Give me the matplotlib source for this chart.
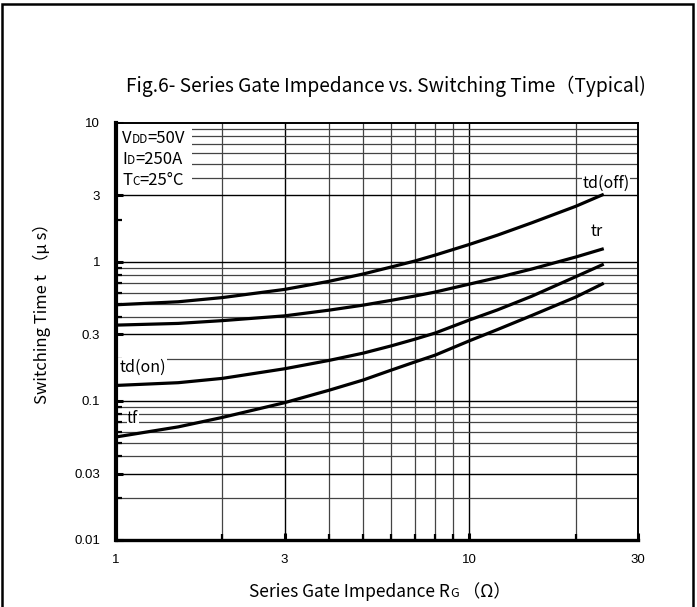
import matplotlib
matplotlib.use('Agg')
import matplotlib.pyplot as plt
from matplotlib.patches import Rectangle
from matplotlib.ticker import FixedLocator, FixedFormatter, NullFormatter

# gate resistance (ohm) and switching times (us), typical
rg = [1, 1.5, 2, 3, 4, 5, 6, 7, 8, 10, 12, 15, 20, 24]
td_off = [0.49, 0.515, 0.552, 0.632, 0.722, 0.815, 0.915, 1.01, 1.115, 1.33, 1.55, 1.9, 2.5, 3.05]
tr = [0.35, 0.36, 0.377, 0.408, 0.448, 0.487, 0.527, 0.566, 0.605, 0.69, 0.768, 0.885, 1.08, 1.24]
td_on = [0.129, 0.135, 0.145, 0.170, 0.195, 0.220, 0.248, 0.277, 0.307, 0.381, 0.45, 0.564, 0.78, 0.96]
tf = [0.055, 0.065, 0.076, 0.097, 0.119, 0.141, 0.166, 0.190, 0.213, 0.27, 0.325, 0.41, 0.557, 0.70]

x_ticks = [1, 3, 10, 30]
x_ticklabels = ['1', '3', '10', '30']
y_ticks = [0.01, 0.03, 0.1, 0.3, 1, 3, 10]
y_ticklabels = ['0.01', '0.03', '0.1', '0.3', '1', '3', '10']
x_minor = [2, 4, 5, 6, 7, 8, 9, 20]
y_minor = [0.02, 0.04, 0.05, 0.06, 0.07, 0.08, 0.09, 0.2, 0.4, 0.5, 0.6, 0.7, 0.8, 0.9, 2, 4, 5, 6, 7, 8, 9]
# horizontal grid has no line at 2
x_grid = [2, 3, 4, 5, 6, 7, 8, 9, 10, 20]
y_grid = [0.02, 0.03, 0.04, 0.05, 0.06, 0.07, 0.08, 0.09, 0.1, 0.2, 0.3, 0.4, 0.5, 0.6,
          0.7, 0.8, 0.9, 1, 3, 4, 5, 6, 7, 8, 9]

JP = ['Noto Sans CJK JP', 'DejaVu Sans']
plt.rcParams['font.family'] = JP

W, H = 697, 607
fig = plt.figure(figsize=(W / 100, H / 100), dpi=100)
ax = fig.add_axes([116 / W, 1 - 540 / H, 522 / W, 417.5 / H])
ax.set_xscale('log')
ax.set_yscale('log')
ax.set_xlim(1, 30)
ax.set_ylim(0.01, 10)

for v in x_grid:
	dark = v in (3, 10)
	ax.axvline(v, color='black' if dark else '#444444', lw=1.0 if dark else 0.9, zorder=1)
for v in y_grid:
	dark = v in (0.03, 0.1, 0.3, 1, 3)
	ax.axhline(v, color='black' if dark else '#444444', lw=1.0 if dark else 0.9, zorder=1)

# condition box hides the grid in the upper left corner
ax.add_patch(Rectangle((0, 0.831), 0.146, 0.165, transform=ax.transAxes,
                       facecolor='white', edgecolor='none', zorder=2))

for ys in (td_off, tr, td_on, tf):
	ax.plot(rg, ys, color='black', lw=2.3, solid_capstyle='butt', solid_joinstyle='round', zorder=3)

lab = dict(fontsize=11.5, zorder=4, transform=ax.transAxes, va='center')
ax.text(0.939, 0.855, 'td(off)', ha='center', bbox=dict(facecolor='white', edgecolor='none', pad=0.5), **lab)
ax.text(0.921, 0.738, 'tr', ha='center', **lab)
ax.text(0.006, 0.413, 'td(on)', ha='left', bbox=dict(facecolor='white', edgecolor='none', pad=1.0), **lab)
ax.text(0.032, 0.290, 'tf', ha='center', bbox=dict(facecolor='white', edgecolor='none', pad=0.3), **lab)

ax.xaxis.set_major_locator(FixedLocator(x_ticks))
ax.xaxis.set_major_formatter(FixedFormatter(x_ticklabels))
ax.xaxis.set_minor_locator(FixedLocator(x_minor))
ax.xaxis.set_minor_formatter(NullFormatter())
ax.yaxis.set_major_locator(FixedLocator(y_ticks))
ax.yaxis.set_major_formatter(FixedFormatter(y_ticklabels))
ax.yaxis.set_minor_locator(FixedLocator(y_minor))
ax.yaxis.set_minor_formatter(NullFormatter())
ax.tick_params(which='major', direction='in', length=5, width=2.2, labelsize=9.5, color='black')
ax.tick_params(which='minor', direction='in', length=4, width=1.6, color='black')
ax.tick_params(axis='y', which='major', pad=11.5)
ax.tick_params(axis='x', which='major', pad=10)
for t in ax.get_xticklabels() + ax.get_yticklabels():
	t.set_family(['Liberation Sans', 'DejaVu Sans'])

ax.spines['left'].set_linewidth(3.0)
ax.spines['bottom'].set_linewidth(2.4)
ax.spines['top'].set_linewidth(1.4)
ax.spines['right'].set_linewidth(1.4)
for s in ax.spines.values():
	s.set_zorder(5)

ax.set_ylabel('Switching Time t （μ s）', fontsize=12, labelpad=0)
ax.yaxis.set_label_coords(-(116 - 51) / 522, (540 - 309) / 417.5)

renderer = fig.canvas.get_renderer()

def rich_text(x, y, parts, ha='left'):
	# parts of (text, size) laid out side by side on one baseline, x/y in pixels from top left
	arts, widths = [], []
	for s, fs in parts:
		t = fig.text(0, 0, s, fontsize=fs, va='baseline', ha='left')
		arts.append(t)
		widths.append(t.get_window_extent(renderer).width)
	x0 = x - sum(widths) / 2 if ha == 'center' else x
	for t, w in zip(arts, widths):
		t.set_position((x0 / W, 1 - y / H))
		x0 += w

rich_text(122, 143, [('V', 12), ('DD', 8.5), ('=50V', 12)])
rich_text(122, 164, [('I', 12), ('D', 8.5), ('=250A', 12)])
rich_text(122, 185, [('T', 12), ('C', 8.5), ('=25°C', 12)])
rich_text(380, 597, [('Series Gate Impedance R', 12.5), ('G', 9), (' （Ω）', 12.5)], ha='center')
rich_text(386, 92, [('Fig.6- Series Gate Impedance vs. Switching Time（Typical)', 13.8)], ha='center')

# frame around the whole sheet
fig.patches.append(Rectangle((2 / W, -0.05), 691 / W, 1.05 - 4 / H, transform=fig.transFigure,
                             facecolor='none', edgecolor='black', lw=1.8))

fig.savefig('out.png', dpi=100)
